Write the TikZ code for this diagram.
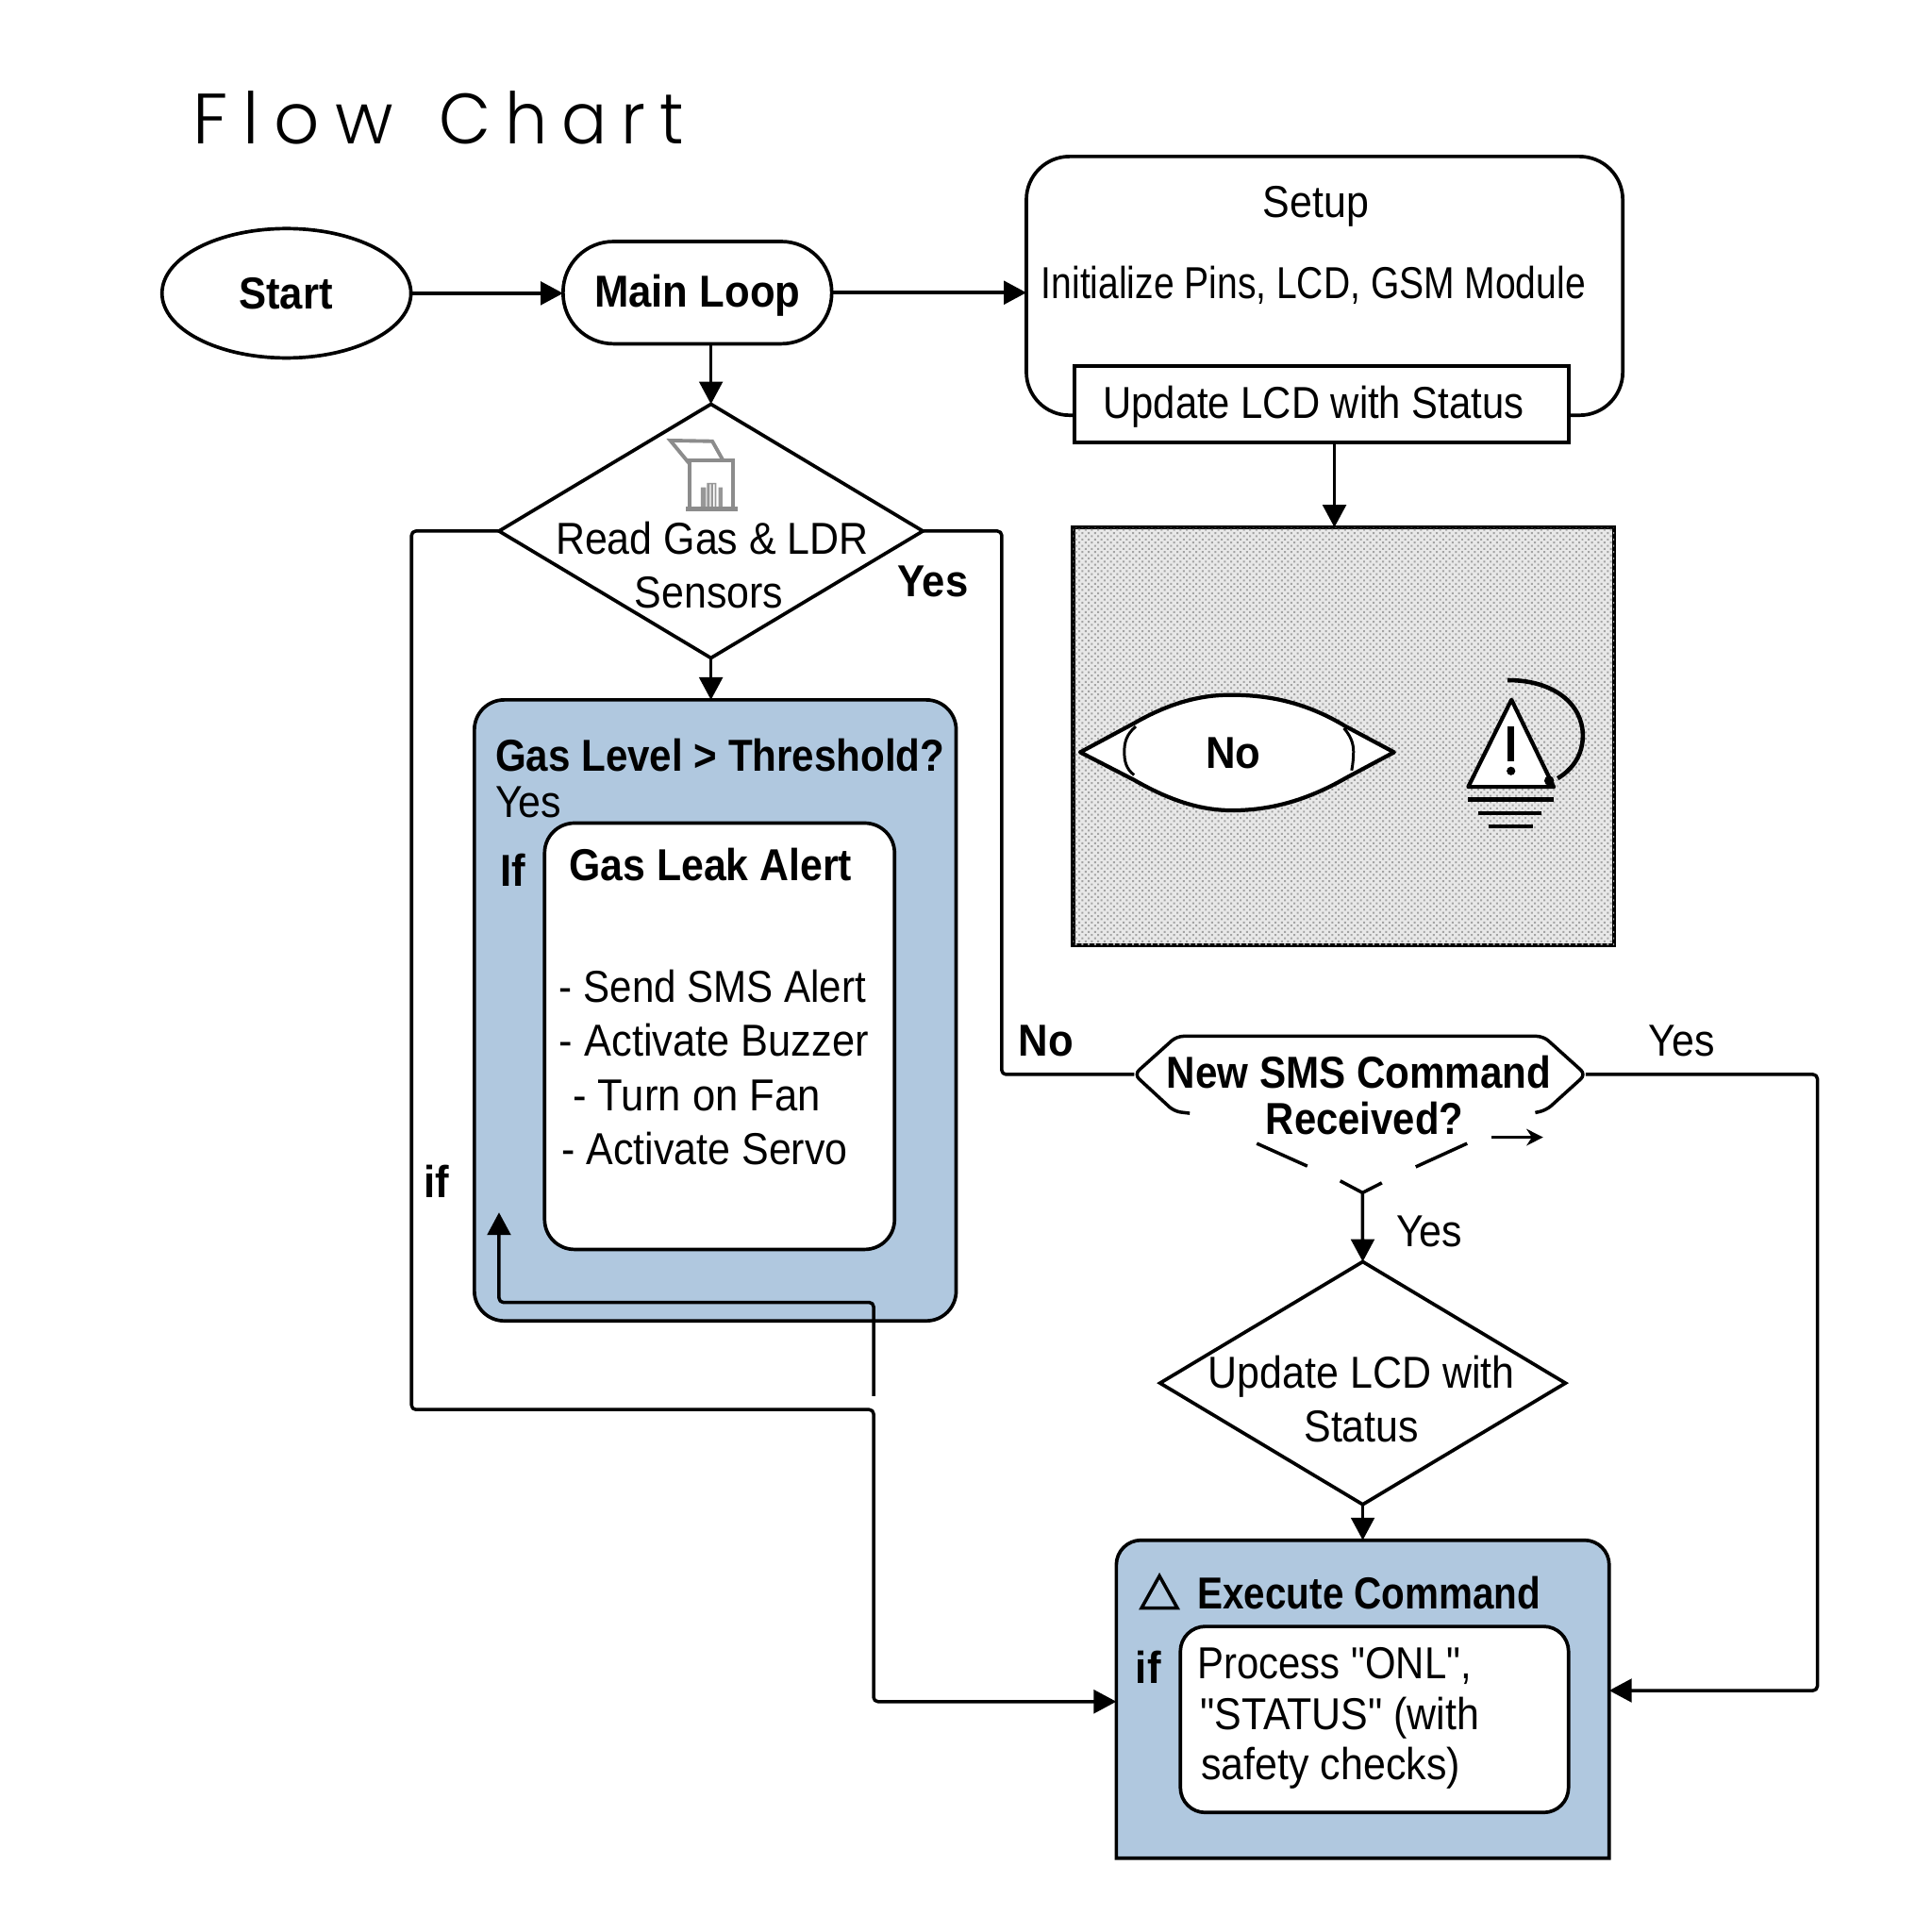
\documentclass[tikz,border=0pt]{standalone}
\usepackage{graphicx}
\usepackage{fontspec}
\setmainfont{Liberation Sans}
\newfontfamily\regf[FakeStretch=0.905]{Liberation Sans}
\newfontfamily\boldf[FakeStretch=0.92]{Liberation Sans Bold}
\newfontfamily\titlef[LetterSpace=21]{Poppins Light}
\usetikzlibrary{arrows.meta,shapes.geometric,patterns.meta,calc}
\newlength\upx
\setlength\upx{0.013061cm}
\newcommand{\sx}[2]{\scalebox{#1}[1]{#2}}
\definecolor{panelblue}{HTML}{B0C8DF}
\definecolor{icongray}{HTML}{8C8C8C}
\tikzset{
  line/.style={line width=1pt,line join=round},
  conn/.style={line,rounded corners=1.3pt},
  arr/.style={conn,-{Triangle[length=6.8pt,width=7pt]}},
  shapebox/.style={draw,line width=1.05pt,inner sep=0pt,outer sep=0pt},
  reg/.style={font=\regf\fontsize{13.5}{15}\selectfont,inner sep=0pt,outer sep=0pt,anchor=base},
  regl/.style={reg,anchor=base west},
  bld/.style={font=\boldf\fontsize{13.5}{15}\selectfont,inner sep=0pt,outer sep=0pt,anchor=base},
  bldl/.style={bld,anchor=base west},
  icon/.style={draw=icongray,line width=1.1pt,line join=miter},
  eye/.style={line width=1.2pt,line join=round},
  thin/.style={line width=0.85pt},
}
\begin{document}
\begin{tikzpicture}[x=0.013061cm,y=-0.013061cm]
\useasboundingbox (0,0) rectangle (1568,1568);

% title
\node[inner sep=0pt,anchor=base west,font=\titlef\fontsize{21.5}{26}\selectfont] (title) at (156,117) {Flow\hspace{3.4pt} \sx{0.945}{Chart}};

% main shapes
\node[shapebox,ellipse,minimum width=202\upx,minimum height=105\upx] (start) at (232.5,238) {};
\node[bld] at (232,250.5) {Start};
\node[shapebox,rectangle,rounded corners=15.2pt,minimum width=218\upx,minimum height=83\upx] (main) at (566,237.5) {};
\node[bld] at (566,249.5) {Main Loop};
\node[shapebox,rectangle,rounded corners=13pt,minimum width=484\upx,minimum height=210\upx] (setup) at (1075,232) {};
\node[reg] at (1068,176.5) {Setup};
\node[reg] at (1066,242.5) {\sx{0.909}{Initialize Pins, LCD, GSM Module}};
\node[shapebox,fill=white,rectangle,minimum width=401\upx,minimum height=62\upx] (status) at (1072.5,328) {};
\node[reg] at (1066,339.5) {\sx{0.973}{Update LCD with Status}};

% gas diamond
\node[shapebox,diamond,minimum width=344\upx,minimum height=206\upx] (gasd) at (577,431) {};
\draw[icon] (559.7,411) -- (559.7,373.9) -- (594.7,373.9) -- (594.7,411);
\draw[icon] (559.7,376.5) -- (544,357.5) -- (578.1,358.1) -- (587,373.9);
\fill[icongray] (556.4,411) rectangle (599,414.8);
\fill[icongray!90] (568.7,395.6) rectangle (573,411) (573.8,391.8) rectangle (581.4,411) (583.2,395.6) rectangle (586.3,411);
\fill[white] (576,393) rectangle (577,411) (579,393) rectangle (580,411);
\node[reg] at (578,449.5) {Read Gas \& LDR};
\node[reg] at (575.5,493.5) {Sensors};
\node[bld] at (757,484.5) {Yes};

% gas panel
\node[shapebox,fill=panelblue,rectangle,rounded corners=9pt,minimum width=391\upx,minimum height=504\upx] (gaspanel) at (580.5,820) {};
\node[bldl] at (402,625.5) {\sx{0.965}{Gas Level > Threshold?}};
\node[regl] at (402,663.5) {Yes};
\node[bld] at (416.5,719.5) {If};
\node[shapebox,fill=white,rectangle,rounded corners=9pt,minimum width=284\upx,minimum height=346\upx] (alert) at (584,841) {};
\node[bldl] at (462,714.5) {\sx{0.98}{Gas Leak Alert}};
\node[regl] at (454,813.5) {\sx{0.98}{- Send SMS Alert}};
\node[regl] at (454,857) {\sx{1.01}{- Activate Buzzer}};
\node[regl] at (465,901.5) {\sx{1.015}{- Turn on Fan}};
\node[regl] at (456,945.5) {- Activate Servo};
\node[bld] at (354,972) {if};

% stippled panel
\node[draw,line width=1.3pt,inner sep=0pt,outer sep=0pt,rectangle,minimum width=439\upx,minimum height=339\upx,
  fill=black!9,postaction={pattern={Dots[distance=1.35pt,radius=0.4pt,angle=45]},pattern color=black!36}] (gray) at (1090.5,597.5) {};
\fill[white] (876.7,610.5) -- (920.4,587) .. controls (950,570) and (975,564) .. (998.6,564) .. controls (1030,564) and (1060,570) .. (1092.3,589.6) -- (1131.4,610.5) -- (1092.3,631.4) .. controls (1060,650) and (1030,657.7) .. (1000,657.7) .. controls (975,657.7) and (950,650) .. (920.4,633) -- cycle;
\draw[eye] (876.7,610.5) -- (920.4,587) .. controls (950,570) and (975,564) .. (998.6,564) .. controls (1030,564) and (1060,570) .. (1092.3,589.6) -- (1131.4,610.5) -- (1092.3,631.4) .. controls (1060,650) and (1030,657.7) .. (1000,657.7) .. controls (975,657.7) and (950,650) .. (920.4,633) -- cycle;
\draw[thin] (921.8,589.6) .. controls (914,596) and (912.5,603) .. (912.5,610) .. controls (912.5,618) and (914,624) .. (920.4,629);
\draw[thin] (1090.7,591) .. controls (1096,597) and (1098.5,603) .. (1098.5,610) .. controls (1098.5,615) and (1098,620) .. (1097,625.3);
\node[bld] at (1001,623.5) {No};
\draw[line width=1.2pt,fill=white,line join=round] (1226.7,567.9) -- (1191.6,638.6) -- (1261,638.6) -- cycle;
\draw[line width=1.9pt] (1226.3,589.6) -- (1226.3,617.7);
\fill (1226.3,625.7) circle[radius=3.5];
\draw[line width=1.3pt] (1223.6,552) .. controls (1262,552) and (1284.6,572) .. (1284.6,597) .. controls (1284.6,612) and (1277,624) .. (1264.2,631.7);
\fill (1257.3,633.6) circle[radius=4];
\draw[line width=1.2pt] (1191.6,648.8) -- (1261,648.8) (1200,659.8) -- (1250.8,659.8) (1208,670.5) -- (1243.9,670.5);

% SMS decision: open outline
\coordinate (hexL) at (920.5,872);
\coordinate (hexR) at (1287,872);
\draw[line,rounded corners=2pt] (965.6,903.5) -- (953,902) -- (hexL) -- (955,841) -- (1252.6,841) -- (hexR) -- (1255,901) -- (1246,903);
\node[bld] at (1103,883.5) {\sx{0.966}{New SMS Command}};
\node[bld] at (1107.5,920.5) {\sx{0.958}{Received?}};
\draw[line] (1020,928) -- (1061,946.4);
\draw[line] (1149,947) -- (1190.7,928);
\draw[line] (1087.7,958.4) -- (1105.8,968) -- (1121.5,960);
\coordinate (hexstem) at (1105.8,968);
\draw[line,-{Stealth[length=5pt,width=5pt]}] (1210.8,923) -- (1252.4,923);
\node[bld] at (849,857) {No};
\node[reg] at (1365,857) {Yes};
\node[reg] at (1160,1012) {Yes};

% LCD decision
\node[shapebox,diamond,minimum width=329\upx,minimum height=197\upx] (lcdd) at (1106,1122.5) {};
\node[reg] at (1105,1126.5) {Update LCD with};
\node[reg] at (1105,1170.5) {Status};

% execute panel
\draw[fill=panelblue,line width=1.05pt] (906,1508) -- (906,1270) .. controls (906,1259) and (915,1250) .. (926,1250) -- (1286,1250) .. controls (1297,1250) and (1306,1259) .. (1306,1270) -- (1306,1508) -- cycle;
\node[inner sep=0pt,outer sep=0pt,rectangle,minimum width=400\upx,minimum height=258\upx] (exec) at (1106,1379) {};
\draw[line width=1pt,line join=miter] (941,1279) -- (926.5,1305) -- (955.5,1305) -- cycle;
\node[bldl] at (972,1305.5) {\sx{0.926}{Execute Command}};
\node[bld] at (932,1366) {if};
\node[shapebox,fill=white,rectangle,rounded corners=7.5pt,minimum width=315\upx,minimum height=151\upx] (proc) at (1115.5,1395.5) {};
\node[regl] at (972,1362.5) {\sx{0.975}{Process "ONL",}};
\node[regl] at (974,1403.5) {"STATUS" (with};
\node[regl] at (975,1444.5) {safety checks)};

% connectors
\draw[arr] (start.east) -- (start.east -| main.west);
\draw[arr] (main.east) -- (main.east -| setup.west);
\draw[arr] (main.south -| gasd.north) -- (gasd.north);
\draw[arr] (gasd.south) -- (gasd.south |- gaspanel.north);
\draw[arr] (status.south -| 1083,0) -- (gray.north -| 1083,0);
\draw[arr] (gasd.west) -- (334,431) -- (334,1144) -- (709,1144) -- (709,1381) -- (exec.west |- 0,1381);
\draw[conn] (gasd.east) -- (813,431) -- (813,872) -- (hexL);
\draw[arr] (hexR) -- (1475,872) -- (1475,1372) -- (exec.east |- 0,1372);
\draw[arr] (hexstem) -- (lcdd.north);
\draw[arr] (lcdd.south) -- (exec.north);
\coordinate (loopend) at (709,1133);
\draw[arr] (loopend) -- (709,1057) -- (405,1057) -- (405,984);
\end{tikzpicture}
\end{document}
